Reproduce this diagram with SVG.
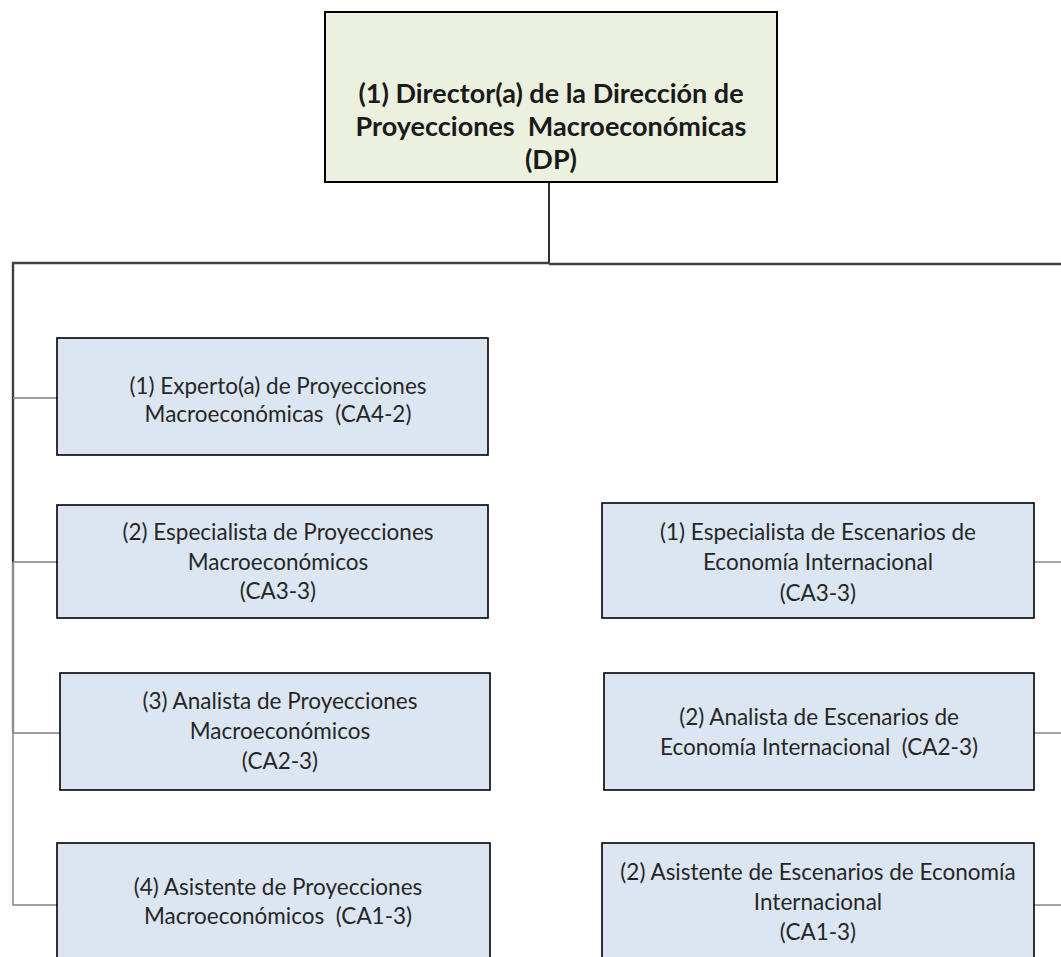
<svg xmlns="http://www.w3.org/2000/svg" width="1061" height="957" viewBox="0 0 1061 957">
<style>
.top{fill:#ebf1de;stroke:#000;stroke-width:2}
.box{fill:#dce6f2;stroke:#000;stroke-width:1.6}
.tb{font-family:Lato,"Liberation Sans",sans-serif;font-weight:bold;font-size:27px;fill:#1a1a1a;text-anchor:middle;white-space:pre}
.t{font-family:Lato,"Liberation Sans",sans-serif;font-size:22.5px;fill:#262626;text-anchor:middle;white-space:pre}
.c1{stroke:#000;stroke-width:1.6;fill:none}
.c2{stroke:#404040;stroke-width:2.4;fill:none}
.c4{stroke:#8c8c8c;stroke-width:2.4;fill:none}
.c3{stroke:#7f7f7f;stroke-width:1.4;fill:none}
</style>
<rect width="1061" height="957" fill="#fff"/>
<g id="connectors">
<path class="c1" d="M549 182 V263"/>
<path class="c2" d="M549 263 H13 V562"/>
<path class="c4" d="M13 562 V733"/>
<path class="c3" d="M13 733 V905 H57"/>
<path class="c2" d="M549 264 H1061"/>
<path class="c3" d="M13 398 H57"/>
<path class="c3" d="M13 562 H57"/>
<path class="c3" d="M13 733 H60"/>
<path class="c3" d="M1034 562 H1061"/>
<path class="c3" d="M1034 733 H1061"/>
<path class="c3" d="M1034 905 H1061"/>
</g>
<g id="director">
<rect class="top" x="325" y="12" width="452" height="170"/>
<text class="tb" x="551" y="103" xml:space="preserve">(1) Director(a) de la Dirección de</text>
<text class="tb" x="551" y="136" xml:space="preserve">Proyecciones  Macroeconómicas</text>
<text class="tb" x="551" y="169">(DP)</text>
</g>
<g id="experto">
<rect class="box" x="57" y="338" width="431" height="117"/>
<text class="t" x="278" y="394">(1) Experto(a) de Proyecciones</text>
<text class="t" x="278" y="422" xml:space="preserve">Macroeconómicas  (CA4-2)</text>
</g>
<g id="especialista-proy">
<rect class="box" x="57" y="505" width="431" height="113"/>
<text class="t" x="278" y="540">(2) Especialista de Proyecciones</text>
<text class="t" x="278" y="570">Macroeconómicos</text>
<text class="t" x="278" y="599">(CA3-3)</text>
</g>
<g id="analista-proy">
<rect class="box" x="60" y="673" width="430" height="117"/>
<text class="t" x="280" y="709">(3) Analista de Proyecciones</text>
<text class="t" x="280" y="739">Macroeconómicos</text>
<text class="t" x="280" y="769">(CA2-3)</text>
</g>
<g id="asistente-proy">
<rect class="box" x="57" y="843" width="433" height="130"/>
<text class="t" x="278" y="895">(4) Asistente de Proyecciones</text>
<text class="t" x="278" y="924" xml:space="preserve">Macroeconómicos  (CA1-3)</text>
</g>
<g id="especialista-esc">
<rect class="box" x="602" y="503" width="432" height="115"/>
<text class="t" x="818" y="540">(1) Especialista de Escenarios de</text>
<text class="t" x="818" y="570">Economía Internacional</text>
<text class="t" x="818" y="601">(CA3-3)</text>
</g>
<g id="analista-esc">
<rect class="box" x="604" y="673" width="430" height="117"/>
<text class="t" x="819" y="725">(2) Analista de Escenarios de</text>
<text class="t" x="819" y="755" xml:space="preserve">Economía Internacional  (CA2-3)</text>
</g>
<g id="asistente-esc">
<rect class="box" x="602" y="843" width="432" height="130"/>
<text class="t" x="818" y="880">(2) Asistente de Escenarios de Economía</text>
<text class="t" x="818" y="910">Internacional</text>
<text class="t" x="818" y="940">(CA1-3)</text>
</g>
</svg>
